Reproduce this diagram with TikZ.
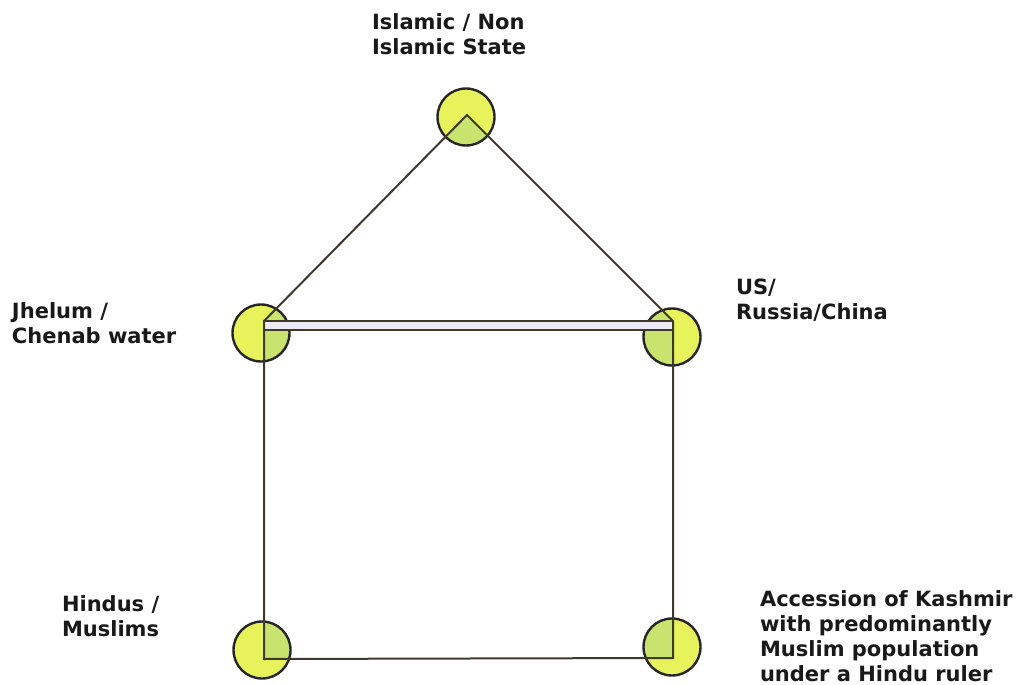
\documentclass[tikz,border=0pt]{standalone}
\usepackage{fontspec}
\setmainfont{DejaVu Sans}
\begin{document}
\begin{tikzpicture}[x=1pt,y=-1pt,
  every node/.style={inner sep=0pt,outer sep=0pt},
  label text/.style={anchor=base west,align=left,font=\bfseries\fontsize{21}{25}\selectfont,text=black!90},
  ball/.style={circle,minimum size=58pt},
  edge line/.style={draw=black!75!olive,line width=2pt}]
\useasboundingbox (0,0) rectangle (1021,685);
\definecolor{ballfill}{HTML}{E8F35C}
\definecolor{innerfill}{HTML}{C8E46E}
\definecolor{barfill}{HTML}{ECEBF5}

% circle positions
\node[ball,fill=ballfill] (top) at (466,117) {};
\node[ball,fill=ballfill] (left) at (261,333) {};
\node[ball,fill=ballfill] (right) at (672,337) {};
\node[ball,fill=ballfill] (bl) at (262,650) {};
\node[ball,fill=ballfill] (br) at (672,647) {};

% house corners
\coordinate (apex) at (467,115);
\coordinate (tl) at (264,321);
\coordinate (tr) at (673,321);
\coordinate (tlb) at (264,330);
\coordinate (trb) at (673,330);
\coordinate (brc) at (673,658);
\coordinate (blc) at (264,659);

% parts of the circles inside the house are tinted
\begin{scope}
  \clip (apex) -- (tr) -- (brc) -- (blc) -- (tl) -- cycle;
  \foreach \n in {top,left,right,bl,br}
    \fill[innerfill] (\n) circle (29pt);
\end{scope}

% circle outlines
\foreach \n in {top,left,right,bl,br}
  \draw[line width=2.4pt,black!85] (\n) circle (28.5pt);

% roof, walls and floor
\draw[edge line] (tl) -- (apex) -- (tr);
\draw[edge line,fill=barfill] (tl) -- (tr) -- (trb) -- (tlb) -- cycle;
\draw[edge line] (tl) -- (blc) -- (brc) -- (tr);

% labels (anchored at the baseline of their last line)
\node[label text] (t1) at (372,55) {Islamic / Non\\Islamic State};
\node[label text] (t2) at (12,343) {Jhelum /\\Chenab water};
\node[label text] (t3) at (736,319) {US/\\Russia/China};
\node[label text] (t4) at (62,636) {Hindus /\\Muslims};
\node[label text] (t5) at (760,681) {Accession of Kashmir\\with predominantly\\Muslim population\\under a Hindu ruler};
\end{tikzpicture}
\end{document}
